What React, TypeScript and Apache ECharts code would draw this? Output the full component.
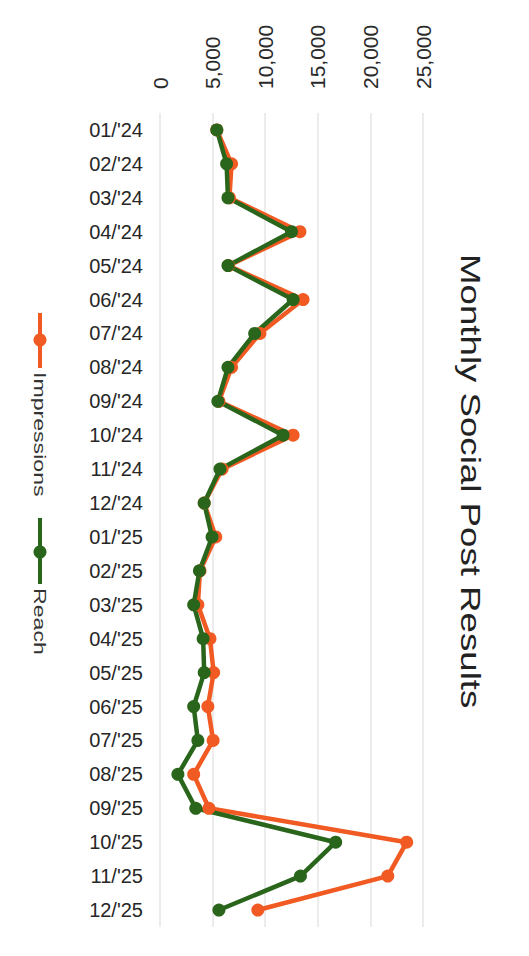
import React, { useEffect, useRef } from "react";
import * as echarts from "echarts";

const months = [
  "01/'24", "02/'24", "03/'24", "04/'24", "05/'24", "06/'24", "07/'24", "08/'24",
  "09/'24", "10/'24", "11/'24", "12/'24", "01/'25", "02/'25", "03/'25", "04/'25",
  "05/'25", "06/'25", "07/'25", "08/'25", "09/'25", "10/'25", "11/'25", "12/'25",
];
const impressions = [
  5400, 6800, 6600, 13300, 6500, 13600, 9500, 6800, 5600, 12650, 5900, 4200,
  5300, 3800, 3600, 4750, 5100, 4550, 5050, 3200, 4650, 23450, 21650, 9300,
];
const reach = [
  5400, 6330, 6460, 12500, 6460, 12650, 9000, 6460, 5500, 11700, 5700, 4200,
  4950, 3750, 3200, 4100, 4200, 3200, 3600, 1700, 3400, 16700, 13350, 5600,
];
const seriesNames = ["Impressions", "Reach"];
const colors = ["#f15a22", "#2a651c"];
const titleText = "Monthly Social Post Results";

export default function App() {
  const ref = useRef<HTMLDivElement>(null);
  useEffect(() => {
    document.body.style.margin = "0";
    if (!ref.current) return;
    const chart = echarts.init(ref.current, null, { renderer: "svg" });
    const font = "'Liberation Sans', Arial, Helvetica, sans-serif";
    const legendText = (name: string, color: string, lineY0: number, lineY1: number, circY: number, textY: number) => [
      {
        type: "line",
        shape: { x1: 40, y1: lineY0, x2: 40, y2: lineY1 },
        style: { stroke: color, lineWidth: 4 },
      },
      {
        type: "circle",
        shape: { cx: 40, cy: circY, r: 6.5 },
        style: { fill: color },
      },
      {
        type: "text",
        x: 40,
        y: textY,
        rotation: -Math.PI / 2,
        scaleX: 1.36,
        style: {
          text: name,
          fontSize: 17,
          fontFamily: font,
          fill: "#333",
          align: "left",
          verticalAlign: "middle",
        },
      },
    ];
    chart.setOption({
      animation: false,
      backgroundColor: "#fff",
      grid: { left: 160, right: 106, top: 113, bottom: 29 },
      xAxis: {
        type: "value",
        position: "top",
        min: 0,
        max: 25000,
        interval: 5000,
        axisLine: { show: false },
        axisTick: { show: false },
        splitLine: { lineStyle: { color: "#e6e6e6", width: 1.5 } },
        axisLabel: {
          rotate: -90,
          margin: 24,
          fontSize: 21,
          fontFamily: font,
          color: "#2a2a2a",
          formatter: (v: number) => v.toLocaleString("en-US"),
        },
      },
      yAxis: {
        type: "category",
        data: months,
        inverse: true,
        axisLine: { show: false },
        axisTick: { show: false },
        axisLabel: { fontSize: 20, fontFamily: font, color: "#262626", margin: 17 },
      },
      series: [
        {
          name: seriesNames[0],
          type: "line",
          data: impressions,
          color: colors[0],
          symbol: "circle",
          symbolSize: 13,
          lineStyle: { width: 4.5 },
        },
        {
          name: seriesNames[1],
          type: "line",
          data: reach,
          color: colors[1],
          symbol: "circle",
          symbolSize: 13,
          lineStyle: { width: 4.5 },
        },
      ],
      graphic: [
        {
          type: "text",
          x: 471,
          y: 254,
          rotation: -Math.PI / 2,
          scaleX: 1.31,
          style: {
            text: titleText,
            fontSize: 28,
            fontFamily: font,
            fill: "#222",
            align: "left",
            verticalAlign: "middle",
          },
        },
        ...legendText(seriesNames[0], colors[0], 313, 368, 340, 372),
        ...legendText(seriesNames[1], colors[1], 518, 584, 552, 588),
      ],
    });
    return () => chart.dispose();
  }, []);
  return <div ref={ref} style={{ width: 529, height: 956 }} />;
}
